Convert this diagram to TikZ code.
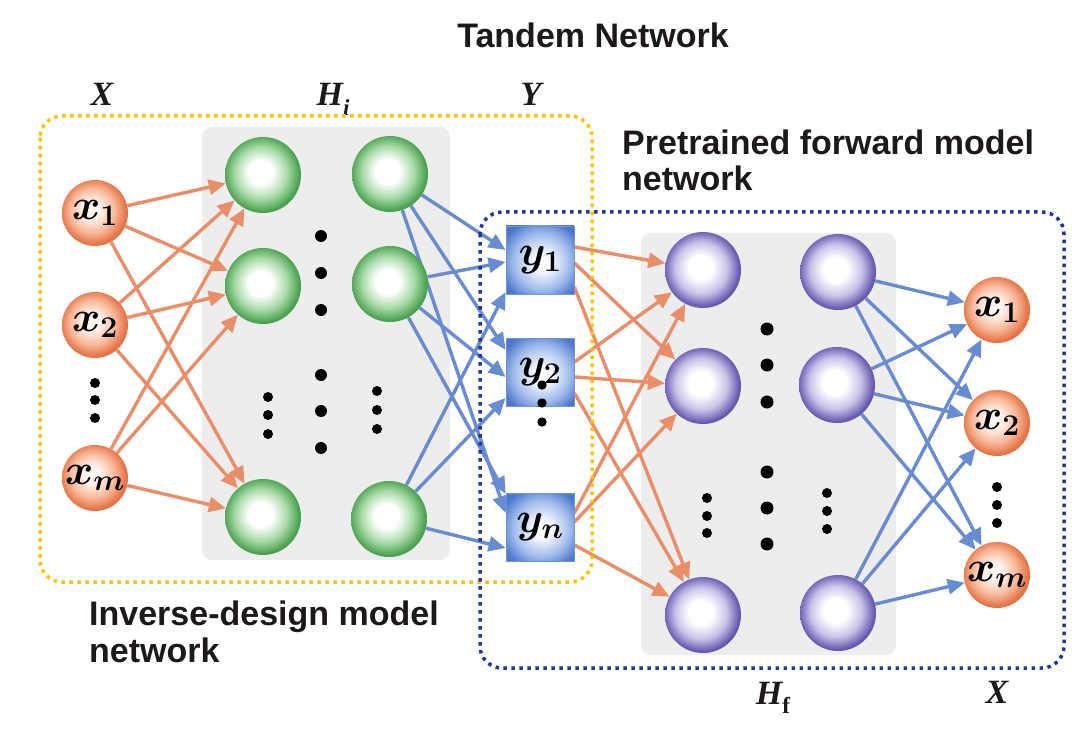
\RequirePackage{fix-cm}
\documentclass[tikz,border=0pt]{standalone}
\usepackage{bm}
\usepackage{fontspec}
\newfontfamily\headfont{Liberation Sans}
\newfontfamily\lblfont{Liberation Serif}
\usetikzlibrary{arrows.meta}

\definecolor{arrO}{RGB}{233,142,104}
\definecolor{arrB}{RGB}{104,140,210}
\definecolor{boxY}{RGB}{255,192,0}
\definecolor{boxN}{RGB}{35,55,150}
\definecolor{panel}{RGB}{237,237,237}
\definecolor{yedge}{RGB}{110,150,215}

\pgfdeclareradialshading{gshade}{\pgfpoint{-2bp}{2bp}}{rgb(0bp)=(1,1,1); rgb(8bp)=(1,1,1); rgb(17bp)=(0.66,0.86,0.66); rgb(25bp)=(0.29,0.63,0.31); rgb(50bp)=(0.29,0.63,0.31)}
\pgfdeclareradialshading{pshade}{\pgfpoint{-2bp}{2bp}}{rgb(0bp)=(1,1,1); rgb(8bp)=(1,1,1); rgb(17bp)=(0.79,0.76,0.91); rgb(25bp)=(0.40,0.34,0.69); rgb(50bp)=(0.40,0.34,0.69)}
\pgfdeclareradialshading{xshade}{\pgfpoint{-3bp}{3bp}}{rgb(0bp)=(1,0.97,0.95); rgb(7bp)=(1,0.95,0.92); rgb(17bp)=(0.97,0.72,0.60); rgb(25bp)=(0.90,0.45,0.27); rgb(50bp)=(0.90,0.45,0.27)}
\pgfdeclareradialshading{yshade}{\pgfpoint{2bp}{-2bp}}{rgb(0bp)=(1,1,1); rgb(7bp)=(0.96,0.97,1); rgb(21bp)=(0.62,0.73,0.92); rgb(31bp)=(0.30,0.47,0.80); rgb(50bp)=(0.30,0.47,0.80)}

\pgfdeclarelayer{bg}
\pgfdeclarelayer{mid}
\pgfsetlayers{bg,mid,main}

\begin{document}
\begin{tikzpicture}[x=1pt,y=-1pt,
  nlabel/.style={font=\fontsize{43}{46}\selectfont, text=black},
  xin/.style={circle, minimum size=66pt, inner sep=0pt, shading=xshade, nlabel},
  gcirc/.style={circle, minimum size=76pt, inner sep=0pt, shading=gshade},
  pcirc/.style={circle, minimum size=76pt, inner sep=0pt, shading=pshade},
  ybox/.style={rectangle, minimum size=68pt, inner sep=0pt, shading=yshade, draw=yedge, line width=0.8pt, nlabel},
  oarr/.style={draw=arrO, line width=3.4pt, -{Triangle[length=17pt,width=15pt]}},
  barr/.style={draw=arrB, line width=3.4pt, -{Triangle[length=17pt,width=15pt]}},
  dotbox/.style={line width=3.5pt, dash pattern=on 3.5pt off 4.5pt, rounded corners=22pt},
  headtxt/.style={font=\headfont\bfseries\fontsize{34}{38}\selectfont, text={rgb,255:red,30;green,25;blue,25}, inner sep=0pt},
  lbl/.style={font=\lblfont\bfseries\itshape\fontsize{34}{36}\selectfont, text={rgb,255:red,30;green,25;blue,25}, inner sep=0pt},
  bigdot/.style={fill=black},
]
\useasboundingbox (0,0) rectangle (1080,733);

\begin{pgfonlayer}{bg}
\fill[white] (0,0) rectangle (1080,733);
\fill[panel, rounded corners=10pt] (202,127) rectangle (450,560);
\fill[panel, rounded corners=10pt] (641,233) rectangle (896,655);
\end{pgfonlayer}

% titles and labels
\node[headtxt, anchor=base] (title) at (593,48) {Tandem Network};
\node[headtxt, anchor=base west] (pt1) at (622,155) {Pretrained forward model};
\node[headtxt, anchor=base west] (pt2) at (622,191) {network};
\node[headtxt, anchor=base west] (iv1) at (89,625) {Inverse-design model};
\node[headtxt, anchor=base west] (iv2) at (89,662) {network};

\node[lbl] (lX) at (102,94) {X};
\node[lbl, anchor=base] (lH) at (333,106) {H\raisebox{-0.28em}{\fontsize{23}{23}\selectfont i}};
\node[lbl] (lY) at (531,94) {Y};
\node[lbl, anchor=base] (lHf) at (773,704) {H\raisebox{-0.28em}{\fontsize{23}{23}\selectfont\upshape f}};
\node[lbl] (lX2) at (997,692) {X};

% dotted boxes
\draw[dotbox, draw=boxY] (40,116) rectangle (592,582);
\draw[dotbox, draw=boxN] (480,212) rectangle (1064,668);

% input nodes
\node[xin] (xa) at (95,213) {$\bm{x}_{\bm{1}}$};
\node[xin] (xb) at (95,325) {$\bm{x}_{\bm{2}}$};
\node[xin] (xc) at (95,478) {$\bm{x}_{\bm{m}}$};

% inverse hidden
\node[gcirc] (ga) at (263,175) {};
\node[gcirc] (gb) at (263,286) {};
\node[gcirc] (gc) at (263,517) {};
\node[gcirc] (ha) at (390,174) {};
\node[gcirc] (hb) at (390,284) {};
\node[gcirc] (hc) at (389,519) {};

% Y nodes
\node[ybox] (ya) at (540,260) {$\bm{y}_{\bm{1}}$};
\node[ybox] (yb) at (540,372) {$\bm{y}_{\bm{2}}$};
\node[ybox] (yc) at (540,527) {$\bm{y}_{\bm{n}}$};

% forward hidden
\node[pcirc] (pa) at (703,270) {};
\node[pcirc] (pb) at (703,386) {};
\node[pcirc] (pc) at (703,615) {};
\node[pcirc] (qa) at (838,272) {};
\node[pcirc] (qb) at (837,385) {};
\node[pcirc] (qc) at (838,613) {};

% outputs
\node[xin] (oa) at (997,310) {$\bm{x}_{\bm{1}}$};
\node[xin] (ob) at (997,423) {$\bm{x}_{\bm{2}}$};
\node[xin] (oc) at (997,575) {$\bm{x}_{\bm{m}}$};

% edges
\begin{pgfonlayer}{mid}
\foreach \s in {xa,xb,xc}
  \foreach \t in {ga,gb,gc}
    \draw[oarr] (\s) -- (\t);
\draw[barr] (ha) -- ([yshift=10pt]ya.west);
\draw[barr] (hb) -- ([yshift=-2pt]ya.west);
\draw[barr] (hc) -- ([yshift=-32pt]ya.west);
\draw[barr] (ha) -- ([yshift=22pt]yb.west);
\draw[barr] (hb) -- ([yshift=-5pt]yb.west);
\draw[barr] (hc) -- ([yshift=-26pt]yb.west);
\draw[barr] (ha) -- ([yshift=14pt]yc.west);
\draw[barr] (hb) -- ([yshift=33pt]yc.west);
\draw[barr] (hc) -- ([yshift=-21pt]yc.west);
\draw[oarr] ([yshift=13pt]ya.east) -- (pa);
\draw[oarr] ([yshift=-3pt]ya.east) -- (pb);
\draw[oarr] ([yshift=-27pt]ya.east) -- (pc);
\draw[oarr] ([yshift=10pt]yb.east) -- (pa);
\draw[oarr] ([yshift=-5pt]yb.east) -- (pb);
\draw[oarr] ([yshift=-21pt]yb.east) -- (pc);
\draw[oarr] ([yshift=14pt]yc.east) -- (pa);
\draw[oarr] ([yshift=5pt]yc.east) -- (pb);
\draw[oarr] ([yshift=-18pt]yc.east) -- (pc);
\foreach \s in {qa,qb,qc}
  \foreach \t in {oa,ob,oc}
    \draw[barr] (\s) -- (\t);
\end{pgfonlayer}

% dots
\foreach \yy in {383,400,418} \fill[bigdot] (95,\yy) circle[radius=5pt];
\foreach \yy in {236,273,310,375,411,448} \fill[bigdot] (321,\yy) circle[radius=6pt];
\foreach \yy in {397,415,434} \fill[bigdot] (268,\yy) circle[radius=5pt];
\foreach \yy in {391,410,429} \fill[bigdot] (377,\yy) circle[radius=5pt];
\foreach \yy in {385,403,422} \fill[bigdot] (542,\yy) circle[radius=4.7pt];
\foreach \yy in {329,365,402,472,508,544} \fill[bigdot] (767,\yy) circle[radius=6.5pt];
\foreach \yy in {498,516,533} \fill[bigdot] (707,\yy) circle[radius=5pt];
\foreach \yy in {493,511,529} \fill[bigdot] (827,\yy) circle[radius=5pt];
\foreach \yy in {487,505,523} \fill[bigdot] (997,\yy) circle[radius=5pt];
\end{tikzpicture}
\end{document}
